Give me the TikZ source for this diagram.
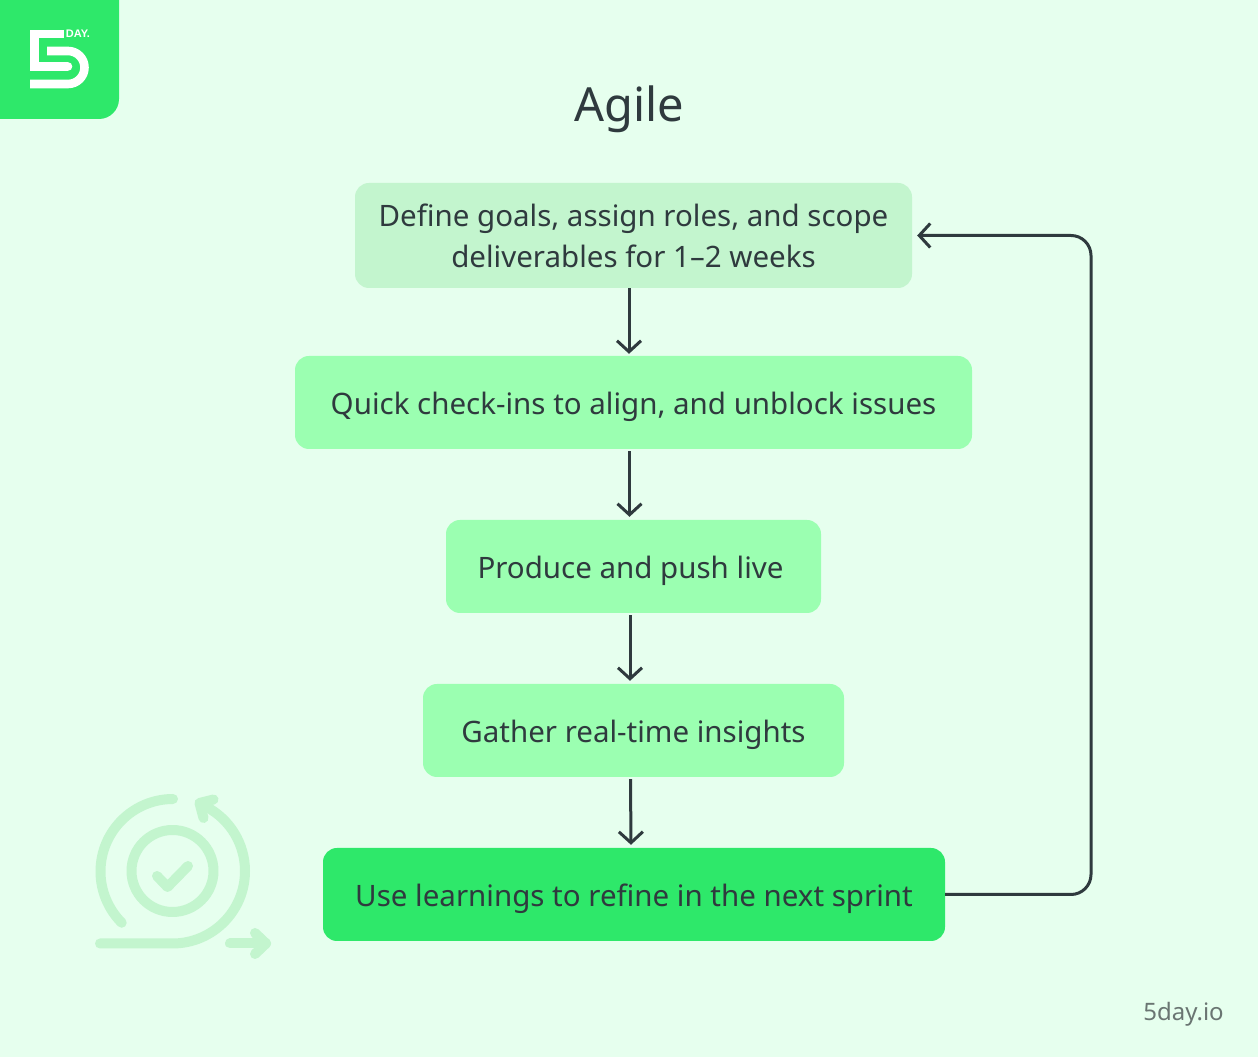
\documentclass[tikz,border=0pt]{standalone}
\usepackage{fontspec}
\setmainfont{Noto Sans}
\newfontfamily\logofont{Liberation Sans}
\usetikzlibrary{arrows.meta,calc}
\definecolor{bgc}{HTML}{E6FFEE}
\definecolor{pale}{HTML}{C3F5CE}
\definecolor{mint}{HTML}{9BFFB1}
\definecolor{vivid}{HTML}{2EE86A}
\definecolor{ink}{HTML}{2F3A3E}
\definecolor{greyt}{HTML}{6A7572}
\tikzset{
  x=1pt,y=1pt,
  boxbase/.style={rounded corners=14pt,inner sep=0pt,align=center,text=ink,font=\fontsize{29.5}{41}\selectfont},
  oneline/.style={boxbase,minimum height=93pt,text height=31.4pt,text depth=7pt},
  flow/.style={draw=ink,line width=3pt,-{Straight Barb[length=11pt,width=24pt,line width=3pt]}},
  iconline/.style={draw=pale,line width=10pt,line cap=round,line join=round},
  logoline/.style={draw=white,line width=8.6pt}
}
\begin{document}
\begin{tikzpicture}
\useasboundingbox (0,0) rectangle (1258,1057);
\fill[bgc] (0,0) rectangle (1258,1057);
% logo tile
\fill[vivid] (0,1057) -- (119,1057) -- (119,958) arc[start angle=0,end angle=-90,radius=20] -- (0,938) -- cycle;
\draw[logoline] (64,1023) -- (34.3,1023) -- (34.3,990.5) -- (68,990.5);
\fill[white] (68,994.8) arc[start angle=90,end angle=-90,radius=4.3] -- cycle;
\draw[logoline] (47,1006) -- (68,1006) arc[start angle=90,end angle=-90,radius=16.5] -- (30,973);
\node[font=\logofont\bfseries\fontsize{11}{11}\selectfont,text=white,inner sep=0pt] (logotext) at (78,1023) {DAY.};
% title and credit
\node[text=ink,font=\fontsize{47}{48}\selectfont,inner sep=0pt] (title) at (629,947.5) {Agile};
\node[text=greyt,font=\fontsize{24}{25}\selectfont,inner sep=0pt] (credit) at (1183.5,42.5) {5day.io};
% boxes
\node[boxbase,fill=pale,minimum width=557pt,minimum height=105pt] (b1) at (633.5,821.5) {Define goals, assign roles, and scope\\deliverables for 1–2 weeks};
\node[oneline,fill=mint,minimum width=677pt] (b2) at (633.5,654.5) {Quick check-ins to align, and unblock issues};
\node[oneline,fill=mint,minimum width=375pt] (b3) at (633.5,490.5) {\hspace*{-6pt}Produce and push live};
\node[oneline,fill=mint,minimum width=421pt] (b4) at (633.5,326.5) {Gather real-time insights};
\node[oneline,fill=vivid,minimum width=622pt] (b5) at (634,162.5) {Use learnings to refine in the next sprint};
% connectors
\draw[flow,shorten >=2pt] ([xshift=-4.5pt]b1.south) -- ([xshift=-4.5pt]b2.north);
\draw[flow,shorten <=2pt,shorten >=3pt] ([xshift=-4pt]b2.south) -- ([xshift=-4pt]b3.north);
\draw[flow,shorten <=2pt,shorten >=3pt] ([xshift=-3.5pt]b3.south) -- ([xshift=-3.5pt]b4.north);
\draw[flow,shorten <=2pt,shorten >=3pt] ([xshift=-3pt]b4.south) -- ([xshift=-3pt]b5.north);
\coordinate (loopa) at (1091,162.5);
\coordinate (loopb) at (1091,821.5);
\draw[flow,rounded corners=20pt,shorten >=5pt] (b5.east) -- (loopa) -- (loopb) -- (b1.east);
% icon
\draw[iconline] (172.5,186) circle[radius=41];
\draw[iconline] (173,258) arc[start angle=90,end angle=225,radius=72.5];
\draw[iconline] (100,113.5) -- (172.5,113.5) arc[start angle=-90,end angle=62,radius=72.5];
\draw[iconline] (213.5,257.5) -- (199.5,254) -- (203.5,239);
\draw[iconline] (157,181) -- (167.5,170) -- (188,191);
\draw[iconline] (230,113.5) -- (266,113.5);
\draw[iconline] (255,124) -- (266,113.5) -- (255,103);
\end{tikzpicture}
\end{document}
